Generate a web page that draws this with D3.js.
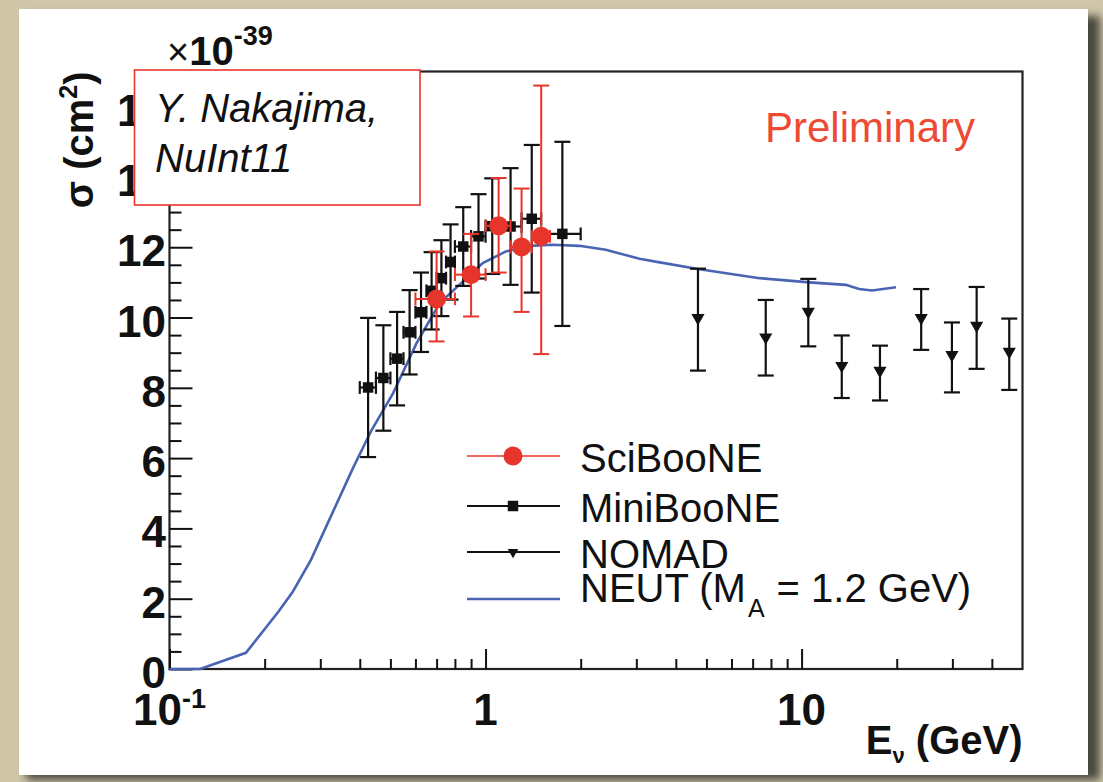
<!DOCTYPE html>
<html>
<head>
<meta charset="utf-8">
<script src="https://cdn.jsdelivr.net/npm/d3@7"></script>
<style>
  body { margin: 0; background: #fff; }
  svg { display: block; font-family: "Liberation Sans", Arial, Helvetica, sans-serif; }
</style>
</head>
<body>
<script>
// cross sections in units of 1e-39 cm^2, energies in GeV
const sciE = [0.7, 0.9, 1.1, 1.3, 1.5];
const sciLo = [0.6, 0.8, 1.0, 1.2, 1.4];
const sciHi = [0.8, 1.0, 1.2, 1.4, 1.6];
const sciSigma = [10.53, 11.22, 12.61, 12.01, 12.31];
const sciErrUp = [1.35, 1.16, 1.36, 1.66, 4.29];
const sciErrDown = [1.21, 1.19, 1.33, 1.85, 3.35];

const miniE = [0.425, 0.475, 0.525, 0.575, 0.625, 0.675, 0.725, 0.775, 0.85, 0.95, 1.05, 1.2, 1.4, 1.75];
const miniLo = [0.4, 0.45, 0.5, 0.55, 0.6, 0.65, 0.7, 0.75, 0.8, 0.9, 1.0, 1.1, 1.3, 1.5];
const miniHi = [0.45, 0.5, 0.55, 0.6, 0.65, 0.7, 0.75, 0.8, 0.9, 1.0, 1.1, 1.3, 1.5, 2.0];
const miniSigma = [8.01, 8.28, 8.83, 9.58, 10.15, 10.76, 11.12, 11.58, 12.02, 12.31, 12.6, 12.59, 12.81, 12.38];
const miniErr = [1.98, 1.5, 1.33, 1.2, 1.13, 1.1, 1.08, 1.07, 1.12, 1.2, 1.36, 1.66, 2.1, 2.62];

const nomadE = [4.7, 7.7, 10.5, 13.4, 17.7, 23.9, 29.9, 35.8, 45.4];
const nomadSigma = [9.99, 9.44, 10.17, 8.63, 8.49, 9.99, 8.94, 9.77, 9.03];
const nomadErrUp = [1.40, 1.06, 0.93, 0.86, 0.71, 0.82, 0.92, 1.10, 0.94];
const nomadErrDown = [1.50, 1.09, 0.99, 0.92, 0.85, 0.91, 1.07, 1.23, 1.09];

const neutE = [0.1, 0.125, 0.1745, 0.221, 0.2455, 0.28, 0.33, 0.38, 0.436, 0.51, 0.605, 0.716, 0.849, 0.98, 1.16, 1.38, 1.63, 1.98, 2.4, 3.07, 3.56, 4.7, 7.36, 10.59, 13.8, 15.2, 16.7, 19.9];
const neutSigma = [0, 0, 0.46, 1.63, 2.2, 3.1, 4.5, 5.7, 6.8, 7.85, 9.27, 10.41, 11.03, 11.55, 11.88, 12.04, 12.07, 12.04, 11.93, 11.67, 11.57, 11.38, 11.12, 11.0, 10.93, 10.81, 10.77, 10.86];

const xMajor = [0.1, 1, 10];
const xMinor = [0.2, 0.3, 0.4, 0.5, 0.6, 0.7, 0.8, 0.9, 2, 3, 4, 5, 6, 7, 8, 9, 20, 30, 40];
const yLabels = ["0", "2", "4", "6", "8", "10", "12", "14", "16"];

const legendNames = ["SciBooNE", "MiniBooNE", "NOMAD"];

const W = 1103, H = 782;
const red = "#e8352b";
const blue = "#4a64b4";

const svg = d3.select("body").append("svg")
  .attr("width", W)
  .attr("height", H);

// slide-like frame: beige border with a dark shadow
const defs = svg.append("defs");
defs.append("filter").attr("id", "shadow")
  .attr("x", "-5%").attr("y", "-5%").attr("width", "110%").attr("height", "110%")
  .append("feGaussianBlur").attr("stdDeviation", 4);

svg.append("rect").attr("width", W).attr("height", H).attr("fill", "#d0c6a8");
svg.append("rect")
  .attr("x", 26).attr("y", 16).attr("width", 1074).attr("height", 764)
  .attr("fill", "#4a4840")
  .attr("filter", "url(#shadow)");
svg.append("rect")
  .attr("x", 19).attr("y", 9).attr("width", 1069).attr("height", 766)
  .attr("fill", "#fff");

const x = d3.scaleLog().domain([0.1, 50]).range([169.5, 1022.5]);
const y = d3.scaleLinear().domain([0, 17]).range([669, 71.5]);

// frame
svg.append("rect")
  .attr("x", x(0.1)).attr("y", y(17))
  .attr("width", x(50) - x(0.1)).attr("height", y(0) - y(17))
  .attr("fill", "none").attr("stroke", "#222").attr("stroke-width", 2.2);

// x axis ticks (drawn inward)
const xMajAxis = d3.axisBottom(x).tickValues(xMajor).tickSize(-20).tickFormat("");
const xMinAxis = d3.axisBottom(x).tickValues(xMinor).tickSize(-10).tickFormat("");
[xMajAxis, xMinAxis].forEach(a => {
  svg.append("g").attr("transform", `translate(0,${y(0)})`).call(a)
    .call(g => g.select(".domain").remove())
    .selectAll("line").attr("stroke", "#111").attr("stroke-width", 2);
});

// y axis ticks
const yMajAxis = d3.axisLeft(y).tickValues(d3.range(0, 17, 2)).tickSize(-23).tickFormat("");
const yMinAxis = d3.axisLeft(y).tickValues(d3.range(0.5, 17.01, 0.5).filter(v => v % 2 !== 0)).tickSize(-12).tickFormat("");
[yMajAxis, yMinAxis].forEach(a => {
  svg.append("g").attr("transform", `translate(${x(0.1)},0)`).call(a)
    .call(g => g.select(".domain").remove())
    .selectAll("line").attr("stroke", "#111").attr("stroke-width", 2);
});

// y tick labels
svg.append("g").selectAll("text")
  .data(yLabels)
  .enter()
  .append("text")
  .attr("x", 166)
  .attr("y", d => y(+d) + 19)
  .attr("text-anchor", "end")
  .attr("font-size", 44)
  .attr("font-weight", "bold")
  .attr("fill", "#111")
  .text(d => d);

// x tick labels
const xl = svg.append("g").attr("font-size", 44).attr("font-weight", "bold").attr("fill", "#111");
const t01 = xl.append("text").attr("x", x(0.1)).attr("y", 725).attr("text-anchor", "middle");
t01.append("tspan").text("10");
t01.append("tspan").attr("font-size", 27).attr("dy", -17).text("-1");
xl.append("text").attr("x", x(1)).attr("y", 725).attr("text-anchor", "middle").text("1");
xl.append("text").attr("x", x(10)).attr("y", 725).attr("text-anchor", "middle").text("10");

// x title
const xt = svg.append("text")
  .attr("x", x(50)).attr("y", 754)
  .attr("text-anchor", "end")
  .attr("font-size", 40).attr("font-weight", "bold").attr("fill", "#111");
xt.append("tspan").text("E");
xt.append("tspan").attr("font-size", 22).attr("dy", 9).text("\u03bd");
xt.append("tspan").attr("dy", -9).text(" (GeV)");

// y title
const yt = svg.append("text")
  .attr("transform", `translate(93,${y(17)}) rotate(-90)`)
  .attr("text-anchor", "end")
  .attr("font-size", 40).attr("font-weight", "bold").attr("fill", "#111");
yt.append("tspan").text("\u03c3 (cm");
yt.append("tspan").attr("font-size", 25).attr("dy", -16).text("2");
yt.append("tspan").attr("dy", 16).text(")");

// exponent
const ex = svg.append("text").attr("x", 167).attr("y", 65).attr("fill", "#111").attr("font-weight", "bold");
ex.append("tspan").attr("font-size", 38).attr("font-weight", "normal").text("\u00d7");
ex.append("tspan").attr("font-size", 40).text("10");
ex.append("tspan").attr("font-size", 27).attr("dy", -20).text("-39");

// NEUT curve
const neut = neutE.map((e, i) => ({ e, s: neutSigma[i] }));
svg.append("path")
  .datum(neut)
  .attr("fill", "none")
  .attr("stroke", blue)
  .attr("stroke-width", 2.6)
  .attr("d", d3.line().x(d => x(d.e)).y(d => y(d.s)));

function errorBars(g, data, color, width, cap) {
  const sel = g.selectAll("g.pt").data(data).enter().append("g").attr("class", "pt")
    .attr("stroke", color).attr("stroke-width", width);
  sel.append("line")
    .attr("x1", d => x(d.e)).attr("x2", d => x(d.e))
    .attr("y1", d => y(d.s + d.up)).attr("y2", d => y(d.s - d.down));
  sel.append("line")
    .attr("x1", d => x(d.e) - cap).attr("x2", d => x(d.e) + cap)
    .attr("y1", d => y(d.s + d.up)).attr("y2", d => y(d.s + d.up));
  sel.append("line")
    .attr("x1", d => x(d.e) - cap).attr("x2", d => x(d.e) + cap)
    .attr("y1", d => y(d.s - d.down)).attr("y2", d => y(d.s - d.down));
  const hb = sel.filter(d => d.lo != null);
  hb.append("line")
    .attr("x1", d => x(d.lo)).attr("x2", d => x(d.hi))
    .attr("y1", d => y(d.s)).attr("y2", d => y(d.s));
  hb.append("line")
    .attr("x1", d => x(d.lo)).attr("x2", d => x(d.lo))
    .attr("y1", d => y(d.s) - cap * 0.8).attr("y2", d => y(d.s) + cap * 0.8);
  hb.append("line")
    .attr("x1", d => x(d.hi)).attr("x2", d => x(d.hi))
    .attr("y1", d => y(d.s) - cap * 0.8).attr("y2", d => y(d.s) + cap * 0.8);
}

const nomad = nomadE.map((e, i) => ({ e, s: nomadSigma[i], up: nomadErrUp[i], down: nomadErrDown[i] }));
const mini = miniE.map((e, i) => ({ e, s: miniSigma[i], up: miniErr[i], down: miniErr[i], lo: miniLo[i], hi: miniHi[i] }));
const sci = sciE.map((e, i) => ({ e, s: sciSigma[i], up: sciErrUp[i], down: sciErrDown[i], lo: sciLo[i], hi: sciHi[i] }));

const triangle = d3.symbol(d3.symbolTriangle).size(75);
const square = d3.symbol(d3.symbolSquare).size(110);

const gNomad = svg.append("g");
errorBars(gNomad, nomad, "#111", 2.2, 8);
gNomad.selectAll("path").data(nomad).enter().append("path")
  .attr("d", triangle)
  .attr("transform", d => `translate(${x(d.e)},${y(d.s)}) rotate(180)`)
  .attr("fill", "#111");

const gMini = svg.append("g");
errorBars(gMini, mini, "#111", 2.2, 8);
gMini.selectAll("path").data(mini).enter().append("path")
  .attr("d", square)
  .attr("transform", d => `translate(${x(d.e)},${y(d.s)})`)
  .attr("fill", "#111");

const gSci = svg.append("g");
errorBars(gSci, sci, red, 2, 8);
gSci.selectAll("circle").data(sci).enter().append("circle")
  .attr("cx", d => x(d.e)).attr("cy", d => y(d.s))
  .attr("r", 9.5)
  .attr("fill", red);

// legend
const legRows = [456, 506, 552];
const leg = svg.append("g");
legendNames.forEach((name, i) => {
  const ly = legRows[i];
  const col = i === 0 ? red : "#111";
  leg.append("line")
    .attr("x1", 467).attr("x2", 560).attr("y1", ly).attr("y2", ly)
    .attr("stroke", col).attr("stroke-width", i === 0 ? 1.6 : 2);
  if (i === 0) {
    leg.append("circle").attr("cx", 513).attr("cy", ly).attr("r", 9.5).attr("fill", red);
  } else if (i === 1) {
    leg.append("path").attr("d", square).attr("transform", `translate(513,${ly})`).attr("fill", "#111");
  } else {
    leg.append("path").attr("d", d3.symbol(d3.symbolTriangle).size(50))
      .attr("transform", `translate(513,${ly}) rotate(180)`).attr("fill", "#111");
  }
  leg.append("text")
    .attr("x", 580).attr("y", ly + 16)
    .attr("font-size", 40).attr("fill", "#111")
    .text(name);
});
leg.append("line")
  .attr("x1", 467).attr("x2", 560).attr("y1", 599).attr("y2", 599)
  .attr("stroke", blue).attr("stroke-width", 2.6);
const nt = leg.append("text").attr("x", 580).attr("y", 602).attr("font-size", 40).attr("fill", "#111");
nt.append("tspan").text("NEUT (M");
nt.append("tspan").attr("font-size", 25).attr("dy", 15).attr("dx", 2).text("A");
nt.append("tspan").attr("dy", -15).attr("dx", 12).text("= 1.2 GeV)");

// Preliminary
svg.append("text")
  .attr("x", 765).attr("y", 142)
  .attr("font-size", 42).attr("fill", "#ee4a33")
  .text("Preliminary");

// annotation box
svg.append("rect")
  .attr("x", 134.5).attr("y", 70).attr("width", 285.5).attr("height", 135)
  .attr("fill", "#fff").attr("stroke", red).attr("stroke-width", 1.6);
const note = svg.append("text").attr("font-size", 40).attr("font-style", "italic").attr("fill", "#111");
note.append("tspan").attr("x", 155).attr("y", 122).text("Y. Nakajima,");
note.append("tspan").attr("x", 155).attr("y", 172).text("NuInt11");
</script>
</body>
</html>
